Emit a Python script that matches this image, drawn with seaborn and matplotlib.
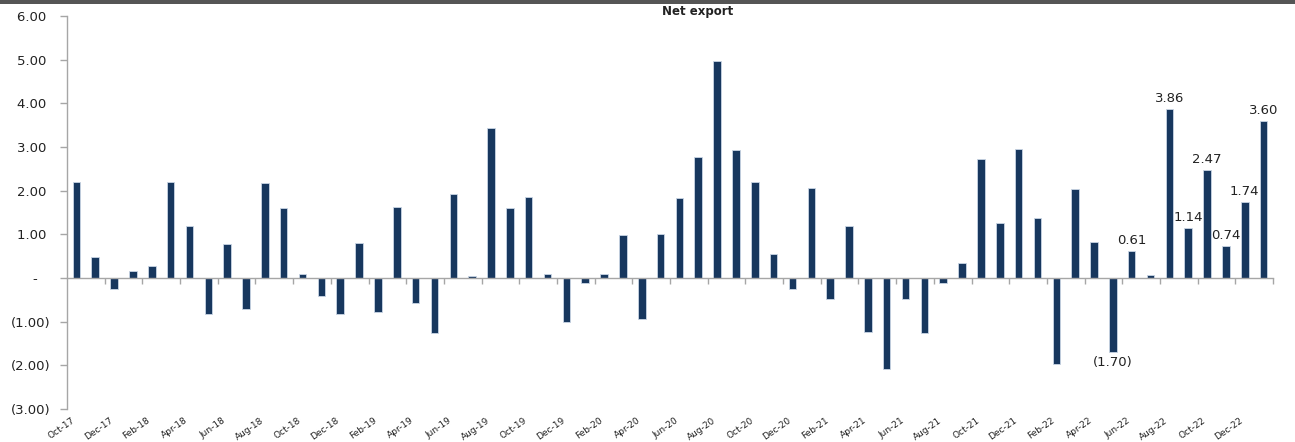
import numpy as np
import pandas as pd
import seaborn as sns
import matplotlib.pyplot as plt
from matplotlib.patches import Rectangle
from matplotlib.transforms import ScaledTranslation

# monthly net export, Oct-17 .. Jan-23
months = pd.date_range('2017-10-01', periods=64, freq='MS').strftime('%b-%y').tolist()
net_export = [2.20, 0.49, -0.25, 0.16, 0.28, 2.19, 1.19, -0.82, 0.78, -0.71,
              2.18, 1.60, 0.09, -0.41, -0.82, 0.80, -0.78, 1.62, -0.57, -1.25,
              1.92, 0.04, 3.43, 1.60, 1.85, 0.09, -1.01, -0.11, 0.09, 0.99,
              -0.95, 1.00, 1.84, 2.76, 4.97, 2.94, 2.19, 0.54, -0.26, 2.07,
              -0.47, 1.19, -1.24, -2.09, -0.47, -1.25, -0.11, 0.34, 2.72, 1.25,
              2.96, 1.37, -1.96, 2.03, 0.83, -1.70, 0.61, 0.06, 3.86, 1.14,
              2.47, 0.74, 1.74, 3.60]
labelled = ['May-22', 'Jun-22', 'Aug-22', 'Sep-22', 'Oct-22', 'Nov-22', 'Dec-22', 'Jan-23']
yticks = [-3, -2, -1, 0, 1, 2, 3, 4, 5, 6]


def fmt(v):
    if v == 0:
        return '-   '
    if v < 0:
        return f'({abs(v):.2f})'
    return f'{v:.2f} '


df = pd.DataFrame({'month': months, 'value': net_export})

sns.set_style('white')
plt.rcParams['font.family'] = ['DejaVu Sans']

fig = plt.figure(figsize=(12.95, 4.42), dpi=100)
ax = fig.add_axes([67 / 1295, 1 - 409 / 442, (1273 - 67) / 1295, (409 - 16) / 442])

sns.barplot(data=df, x='month', y='value', order=months, color='#17375E',
            width=0.4, edgecolor='#C9D5E4', linewidth=0.6, saturation=1, ax=ax)

# data labels on the last months only
lbls = [fmt(v).strip() if m in labelled else '' for m, v in zip(months, net_export)]
ax.bar_label(ax.containers[0], labels=lbls, padding=3, fontsize=9.5, color='#222222')

ax.set_xlim(-0.5, len(months) - 0.5)
ax.set_ylim(-3, 6)
ax.set_xlabel('')
ax.set_ylabel('')

# y axis
ax.set_yticks(yticks)
ax.set_yticklabels([fmt(v) for v in yticks])
ax.tick_params(axis='y', left=True, length=5, width=1, color='#A6A6A6',
               labelsize=9.5, labelcolor='#222222', pad=7)
ax.spines['left'].set_color('#A6A6A6')
ax.spines['left'].set_linewidth(1)
ax.spines['top'].set_visible(False)
ax.spines['right'].set_visible(False)

# zero line carries the tick marks between every two months
ax.spines['bottom'].set_position(('data', 0))
ax.spines['bottom'].set_color('#A6A6A6')
ax.spines['bottom'].set_linewidth(1)
ax.set_xticks(np.arange(1.5, len(months), 2), minor=True)
ax.set_xticks([])
ax.tick_params(axis='x', which='minor', bottom=True, length=4, width=1, color='#A6A6A6')

# month labels at bottom of plot
sec = ax.secondary_xaxis('bottom')
sec.spines['bottom'].set_visible(False)
sec.set_xticks(range(0, len(months), 2))
sec.set_xticklabels(months[::2], rotation=35, ha='right', va='top', rotation_mode='anchor',
                    fontsize=6.5, color='#222222')
sec.tick_params(axis='x', length=0, pad=5)
shift = ScaledTranslation(-5 / 100, 0, fig.dpi_scale_trans)
for t in sec.get_xticklabels():
    t.set_transform(t.get_transform() + shift)

fig.text(0.539, 0.975, 'Net export', ha='center', va='center', fontsize=8.5,
         fontweight='bold', color='#222222')
fig.add_artist(Rectangle((0, 1 - 4 / 442), 1, 4 / 442, transform=fig.transFigure,
                         color='#555555', lw=0))

fig.savefig('out.png', dpi=100, facecolor='white')
